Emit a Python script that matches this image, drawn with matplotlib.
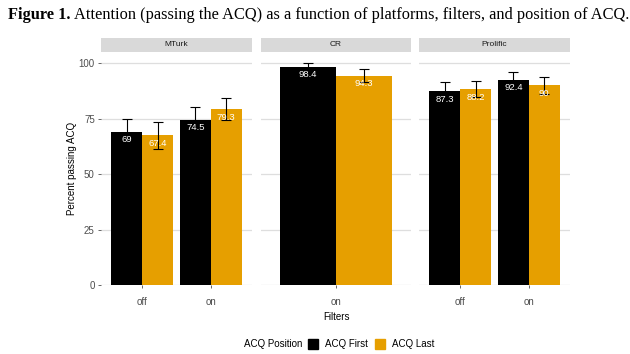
# Attention check (ACQ) by platform, filters and position - faceted bar chart

import matplotlib
matplotlib.use("Agg")
import matplotlib.pyplot as plt
from matplotlib.patches import Patch, Rectangle

# Data
platforms = ["MTurk", "CR", "Prolific"]
filters = [["off", "on"], ["on"], ["off", "on"]]
acq_first = [[69, 74.5], [98.4], [87.3, 92.4]]
acq_last = [[67.4, 79.3], [94.3], [88.2, 90]]
err_first = [[6.0, 5.5], [1.6], [4.3, 3.4]]
err_last = [[6.1, 5.1], [2.9], [3.6, 3.8]]
yticks = [0, 25, 50, 75, 100]

black = "#000000"
orange = "#E69F00"
sans = ["Liberation Sans", "DejaVu Sans"]
plt.rcParams["font.family"] = sans

W, H = 630, 354
fig = plt.figure(figsize=(W / 100, H / 100), dpi=100)

def px(x0, y0, x1, y1):
    # pixel box (top-left origin) -> figure fraction rect
    return [x0 / W, 1 - y1 / H, (x1 - x0) / W, (y1 - y0) / H]

panel_x = [(101, 252), (261, 411), (419, 570)]
top, bottom = 52, 285
bw = 0.45

for i, name in enumerate(platforms):
    x0, x1 = panel_x[i]
    ax = fig.add_axes(px(x0, top, x1, bottom))
    n = len(filters[i])
    xs = list(range(1, n + 1))
    ax.set_xlim(0.4, n + 0.6)
    ax.set_ylim(0, 105)
    for s in ax.spines.values():
        s.set_visible(False)
    ax.set_yticks(yticks)
    ax.grid(axis="y", color="#DEDEDE", linewidth=0.9)
    ax.set_axisbelow(True)
    ax.set_xticks(xs)
    ax.set_xticklabels(filters[i])
    ax.tick_params(axis="both", colors="#4D4D4D", labelsize=7, length=2.5, width=0.6, pad=2)
    ax.tick_params(axis="x", pad=6)
    if i == 0:
        ax.set_yticklabels([str(t) for t in yticks])
        ax.set_ylabel("Percent passing ACQ", fontsize=7, labelpad=1)
    else:
        ax.tick_params(axis="y", left=False, labelleft=False)

    for vals, errs, off, col in [(acq_first[i], err_first[i], -bw / 2, black),
                                 (acq_last[i], err_last[i], bw / 2, orange)]:
        pos = [x + off for x in xs]
        ax.bar(pos, vals, width=bw, color=col, linewidth=0, zorder=2)
        ax.errorbar(pos, vals, yerr=errs, fmt="none", ecolor="black",
                    elinewidth=0.8, capsize=3.5, capthick=0.8, zorder=3)
        for p, v in zip(pos, vals):
            ax.annotate(f"{v:g}", (p, v), xytext=(0, -2.5), textcoords="offset points",
                        ha="center", va="top", color="white", fontsize=6.8, zorder=4)

    # facet strip
    fig.patches.append(Rectangle((x0 / W, 1 - top / H), (x1 - x0) / W, 14 / H,
                                 transform=fig.transFigure, facecolor="#D9D9D9",
                                 edgecolor="none"))
    fig.text((x0 + x1) / 2 / W, 1 - 45 / H, name, ha="center", va="center",
             fontsize=6, color="#1A1A1A")

fig.text(336 / W, 1 - 317 / H, "Filters", ha="center", va="center", fontsize=7)

# legend
fig.text(244 / W, 1 - 344 / H, "ACQ Position", ha="left", va="center", fontsize=7)
handles = [Patch(color=black, label="ACQ First"), Patch(color=orange, label="ACQ Last")]
fig.legend(handles=handles, loc="center left", bbox_to_anchor=(308 / W, 1 - 344 / H),
           ncol=2, frameon=False, fontsize=7, handlelength=1.03, handleheight=1.25,
           handletextpad=0.72, columnspacing=0.72, borderpad=0, borderaxespad=0)

# title
r = fig.canvas.get_renderer()
t1 = fig.text(8 / W, 1 - 15 / H, "Figure 1.", ha="left", va="center", fontsize=11.75,
              fontweight="bold", family="Liberation Serif")
bb = t1.get_window_extent(renderer=r)
fig.text((bb.x1 + 3) / W, 1 - 15 / H,
         "Attention (passing the ACQ) as a function of platforms, filters, and position of ACQ.",
         ha="left", va="center", fontsize=11.75, family="Liberation Serif")

fig.savefig("out.png", dpi=100)
